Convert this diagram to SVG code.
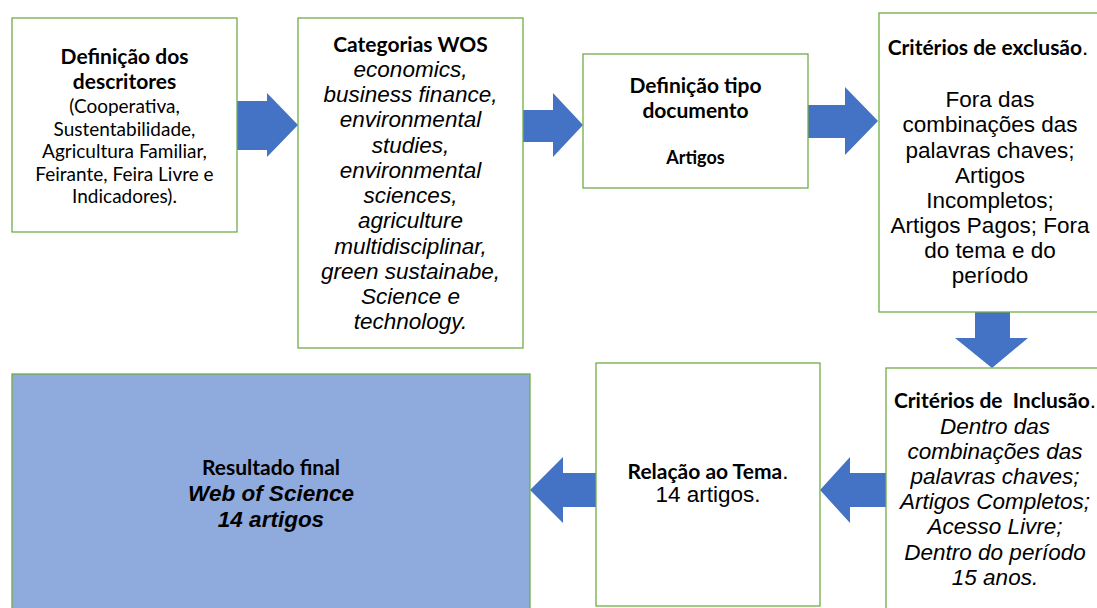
<svg xmlns="http://www.w3.org/2000/svg" width="1097" height="608" viewBox="0 0 1097 608">
  <style>
    .box { fill: #ffffff; stroke: #70AD47; stroke-width: 1.3; }
    .final { fill: #8FAADC; stroke: #70AD47; stroke-width: 1.3; }
    .arrow { fill: #4472C4; stroke: none; }
    text { fill: #000000; text-anchor: middle; }
    .hb { font-family: Lato, "Noto Sans", sans-serif; font-weight: bold; font-size: 21px; }
    .hr { font-family: Lato, "Noto Sans", sans-serif; font-size: 19px; }
    .hs { font-family: Lato, "Noto Sans", sans-serif; font-weight: bold; font-size: 18px; }
    .ar { font-family: "Liberation Sans", Arial, sans-serif; font-size: 22.5px; }
    .ai { font-family: "Liberation Sans", Arial, sans-serif; font-size: 22.5px; font-style: italic; }
    .abi { font-family: "Liberation Sans", Arial, sans-serif; font-size: 22.5px; font-style: italic; font-weight: bold; }
  </style>

  <!-- flow arrows -->
  <g id="connectors">
    <polygon class="arrow" points="237,101 267,101 267,93 298,125 267,157 267,150 237,150"/>
    <polygon class="arrow" points="523,110 553,110 553,93 583,125 553,157 553,142 523,142"/>
    <polygon class="arrow" points="808,105 845,105 845,87 878,121 845,155 845,138 808,138"/>
    <polygon class="arrow" points="975,312 1010,312 1010,338 1028,338 992,368 955,338 975,338"/>
    <polygon class="arrow" points="886,473 850,473 850,457 820,490 850,523 850,507 886,507"/>
    <polygon class="arrow" points="596,473 563,473 563,457 530,490 563,523 563,507 596,507"/>
  </g>

  <g id="descritores">
    <rect class="box" x="12" y="18" width="225" height="214"/>
    <text class="hb" x="124.5" y="64">Definição dos</text>
    <text class="hb" x="124.5" y="89">descritores</text>
    <text class="hr" x="124.5" y="113">(Cooperativa,</text>
    <text class="hr" x="124.5" y="135.5">Sustentabilidade,</text>
    <text class="hr" x="124.5" y="158">Agricultura Familiar,</text>
    <text class="hr" x="124.5" y="180.5">Feirante, Feira Livre e</text>
    <text class="hr" x="124.5" y="203">Indicadores).</text>
  </g>

  <g id="categorias">
    <rect class="box" x="298" y="18" width="225" height="330"/>
    <text class="hb" x="410.5" y="52">Categorias WOS</text>
    <text class="ai" x="410.5" y="77">economics,</text>
    <text class="ai" x="410.5" y="102">business finance,</text>
    <text class="ai" x="410.5" y="127">environmental</text>
    <text class="ai" x="410.5" y="153">studies,</text>
    <text class="ai" x="410.5" y="178">environmental</text>
    <text class="ai" x="410.5" y="203">sciences,</text>
    <text class="ai" x="410.5" y="228">agriculture</text>
    <text class="ai" x="410.5" y="254">multidisciplinar,</text>
    <text class="ai" x="410.5" y="279">green sustainabe,</text>
    <text class="ai" x="410.5" y="304">Science e</text>
    <text class="ai" x="410.5" y="329">technology.</text>
  </g>

  <g id="tipo-documento">
    <rect class="box" x="583" y="54" width="225" height="134"/>
    <text class="hb" x="695.5" y="93">Definição tipo</text>
    <text class="hb" x="695.5" y="118">documento</text>
    <text class="hs" x="695.5" y="164">Artigos</text>
  </g>

  <g id="exclusao">
    <rect class="box" x="879" y="13" width="230" height="299"/>
    <text x="988" y="55"><tspan class="hb">Critérios de exclusão</tspan><tspan class="ar" font-size="19">.</tspan></text>
    <text class="ar" x="990" y="107">Fora das</text>
    <text class="ar" x="990" y="132">combinações das</text>
    <text class="ar" x="990" y="157.5">palavras chaves;</text>
    <text class="ar" x="990" y="182.5">Artigos</text>
    <text class="ar" x="990" y="207.5">Incompletos;</text>
    <text class="ar" x="990" y="233">Artigos Pagos; Fora</text>
    <text class="ar" x="990" y="258">do tema e do</text>
    <text class="ar" x="990" y="283">período</text>
  </g>

  <g id="inclusao">
    <rect class="box" x="886" y="368" width="230" height="260"/>
    <text x="995" y="408" xml:space="preserve"><tspan class="hb">Critérios de  Inclusão</tspan><tspan class="ar" font-size="19">.</tspan></text>
    <text class="ai" x="995" y="434">Dentro das</text>
    <text class="ai" x="995" y="459">combinações das</text>
    <text class="ai" x="995" y="484">palavras chaves;</text>
    <text class="ai" x="995" y="509">Artigos Completos;</text>
    <text class="ai" x="995" y="534">Acesso Livre;</text>
    <text class="ai" x="995" y="560">Dentro do período</text>
    <text class="ai" x="995" y="585">15 anos.</text>
  </g>

  <g id="relacao-tema">
    <rect class="box" x="596" y="363" width="224" height="243"/>
    <text x="708" y="479"><tspan class="hb">Relação ao Tema</tspan><tspan class="ar" font-size="19">.</tspan></text>
    <text class="ar" x="708" y="502">14 artigos.</text>
  </g>

  <g id="resultado-final">
    <rect class="final" x="12" y="374" width="518" height="250"/>
    <text class="hb" x="271" y="475">Resultado final</text>
    <text class="abi" x="271" y="501">Web of Science</text>
    <text class="abi" x="271" y="527">14 artigos</text>
  </g>
</svg>
